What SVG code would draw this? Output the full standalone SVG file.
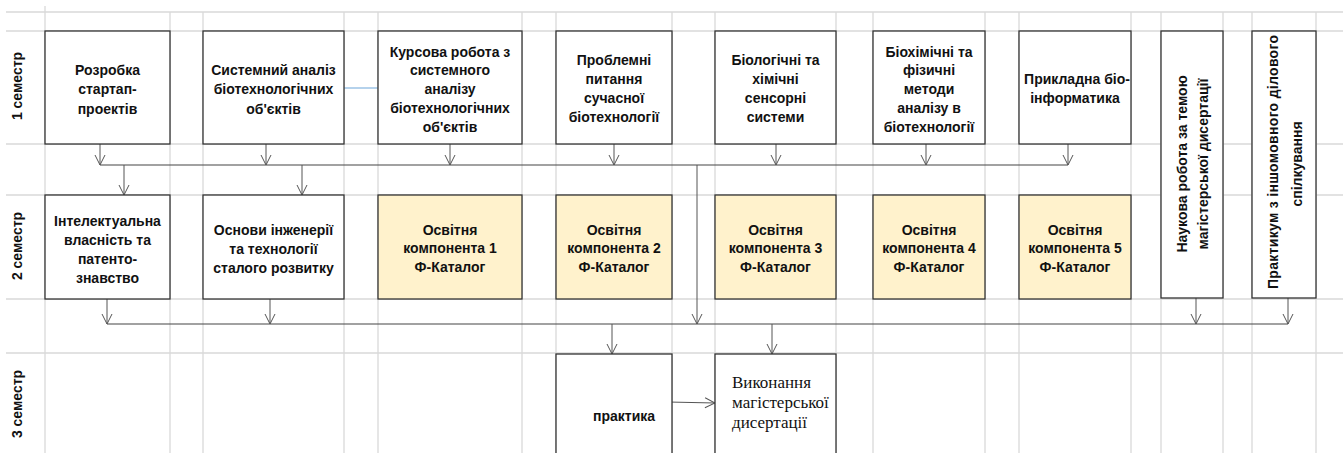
<svg xmlns="http://www.w3.org/2000/svg" width="1343" height="453" viewBox="0 0 1343 453">
<style>
.grid{stroke:#d9d9d9;stroke-width:1.3;fill:none}
.box{fill:#fff;stroke:#333;stroke-width:1.3}
.cat{fill:#fff2cc;stroke:#333;stroke-width:1.3}
.t{font-family:"Liberation Sans",Arial,sans-serif;font-size:14px;font-weight:bold;fill:#111;text-anchor:middle}
.s{font-family:"Liberation Serif","Times New Roman",serif;font-size:17px;fill:#111}
.c{stroke:#444;stroke-width:1.1;fill:none}
.ca{stroke:#555;stroke-width:1;fill:none;marker-end:url(#arr)}
</style>
<defs>
<marker id="arr" viewBox="0 0 12 12" refX="11" refY="6" markerWidth="12" markerHeight="12" markerUnits="userSpaceOnUse" orient="auto">
<path d="M1,1 L11,6 L1,11" fill="none" stroke="#555" stroke-width="1"/>
</marker>
</defs>
<rect width="1343" height="453" fill="#fff"/>
<g id="grid" class="grid">
<path d="M6,12H1343M6,31H1343M6,144H1343M6,195H1343M6,299H1343M6,353H1343"/>
<path d="M45,6V453M170,12V453M203,12V453M344,12V453M378,12V453M522,12V453M556,12V453M672,12V453M715,12V453M836,12V453M873,12V453M985,12V453M1019,12V453M1131,12V453M1161,12V453M1223,12V453M1252,12V453M1316,12V453"/>
</g>
<g id="labels" class="t">
<text transform="translate(22,86) rotate(-90)">1 семестр</text>
<text transform="translate(22,246) rotate(-90)">2 семестр</text>
<text transform="translate(22,404) rotate(-90)">3 семестр</text>
</g>
<g id="connectors">
<path d="M344,88H378" stroke="#9dc3e6" stroke-width="1.5" fill="none"/>
<path class="c" d="M100,165H1068M107,324H1288"/>
<path class="ca" d="M100,144V165"/>
<path class="ca" d="M266,144V165"/>
<path class="ca" d="M450,144V165"/>
<path class="ca" d="M614,144V165"/>
<path class="ca" d="M776,144V165"/>
<path class="ca" d="M926,144V165"/>
<path class="ca" d="M1068,144V165"/>
<path class="ca" d="M124,165V195"/>
<path class="ca" d="M302,165V195"/>
<path class="ca" d="M697,165V324"/>
<path class="ca" d="M107,299V324"/>
<path class="ca" d="M270,299V324"/>
<path class="ca" d="M1196,298V324"/>
<path class="ca" d="M1288,298V324"/>
<path class="ca" d="M612,324V354"/>
<path class="ca" d="M772,324V354"/>
<path class="ca" d="M668,402L715,403"/>
</g>
<g id="n1"><rect class="box" x="45" y="31" width="125" height="113"/>
<text class="t"><tspan x="107.5" y="75">Розробка</tspan><tspan x="107.5" y="94">стартап-</tspan><tspan x="107.5" y="114">проектів</tspan></text></g>
<g id="n2"><rect class="box" x="203" y="31" width="141" height="113"/>
<text class="t"><tspan x="273.5" y="75">Системний аналіз</tspan><tspan x="273.5" y="94">біотехнологічних</tspan><tspan x="273.5" y="114">об'єктів</tspan></text></g>
<g id="n3"><rect class="box" x="378" y="31" width="144" height="113"/>
<text class="t"><tspan x="450" y="57">Курсова робота з</tspan><tspan x="450" y="75">системного</tspan><tspan x="450" y="94">аналізу</tspan><tspan x="450" y="113">біотехнологічних</tspan><tspan x="450" y="132">об'єктів</tspan></text></g>
<g id="n4"><rect class="box" x="556" y="31" width="116" height="113"/>
<text class="t"><tspan x="614" y="65">Проблемні</tspan><tspan x="614" y="84">питання</tspan><tspan x="614" y="103">сучасної</tspan><tspan x="614" y="122">біотехнології</tspan></text></g>
<g id="n5"><rect class="box" x="715" y="31" width="121" height="113"/>
<text class="t"><tspan x="775.5" y="65">Біологічні та</tspan><tspan x="775.5" y="84">хімічні</tspan><tspan x="775.5" y="103">сенсорні</tspan><tspan x="775.5" y="122">системи</tspan></text></g>
<g id="n6"><rect class="box" x="873" y="31" width="112" height="113"/>
<text class="t"><tspan x="929" y="57">Біохімічні та</tspan><tspan x="929" y="75">фізичні</tspan><tspan x="929" y="94">методи</tspan><tspan x="929" y="113">аналізу в</tspan><tspan x="929" y="132">біотехнології</tspan></text></g>
<g id="n7"><rect class="box" x="1019" y="31" width="112" height="113"/>
<text class="t"><tspan x="1077" y="84">Прикладна біо-</tspan><tspan x="1075" y="103">інформатика</tspan></text></g>
<g id="n8"><rect class="box" x="1161" y="31" width="62" height="267"/>
<text class="t" transform="translate(1187,164) rotate(-90)">Наукова робота за темою</text>
<text class="t" transform="translate(1208,164) rotate(-90)">магістерської дисертації</text></g>
<g id="n9"><rect class="box" x="1252" y="31" width="64" height="267"/>
<text class="t" transform="translate(1278,162) rotate(-90)" textLength="254" lengthAdjust="spacing">Практикум з іншомовного ділового</text>
<text class="t" transform="translate(1302,164) rotate(-90)">спілкування</text></g>
<g id="n10"><rect class="box" x="45" y="195" width="125" height="104"/>
<text class="t"><tspan x="107.5" y="226">Інтелектуальна</tspan><tspan x="107.5" y="245">власність та</tspan><tspan x="107.5" y="264">патенто-</tspan><tspan x="107.5" y="283">знавство</tspan></text></g>
<g id="n11"><rect class="box" x="203" y="195" width="141" height="104"/>
<text class="t"><tspan x="273.5" y="235">Основи інженерії</tspan><tspan x="273.5" y="254">та технології</tspan><tspan x="273.5" y="273">сталого розвитку</tspan></text></g>
<g id="n12"><rect class="cat" x="378" y="195" width="144" height="104"/>
<text class="t"><tspan x="450" y="235">Освітня</tspan><tspan x="450" y="253">компонента 1</tspan><tspan x="450" y="272">Ф-Каталог</tspan></text></g>
<g id="n13"><rect class="cat" x="556" y="195" width="116" height="104"/>
<text class="t"><tspan x="614" y="235">Освітня</tspan><tspan x="614" y="253">компонента 2</tspan><tspan x="614" y="272">Ф-Каталог</tspan></text></g>
<g id="n14"><rect class="cat" x="715" y="195" width="121" height="104"/>
<text class="t"><tspan x="775.5" y="235">Освітня</tspan><tspan x="775.5" y="253">компонента 3</tspan><tspan x="775.5" y="272">Ф-Каталог</tspan></text></g>
<g id="n15"><rect class="cat" x="873" y="195" width="112" height="104"/>
<text class="t"><tspan x="929" y="235">Освітня</tspan><tspan x="929" y="253">компонента 4</tspan><tspan x="929" y="272">Ф-Каталог</tspan></text></g>
<g id="n16"><rect class="cat" x="1019" y="195" width="112" height="104"/>
<text class="t"><tspan x="1075" y="235">Освітня</tspan><tspan x="1075" y="253">компонента 5</tspan><tspan x="1075" y="272">Ф-Каталог</tspan></text></g>
<g id="n17"><rect class="box" x="556" y="354" width="116" height="110"/>
<text class="t" x="624" y="421">практика</text></g>
<g id="n18"><rect class="box" x="715" y="354" width="121" height="110"/>
<text class="s"><tspan x="732" y="388">Виконання</tspan><tspan x="732" y="408">магістерської</tspan><tspan x="732" y="428">дисертації</tspan></text></g>
</svg>
